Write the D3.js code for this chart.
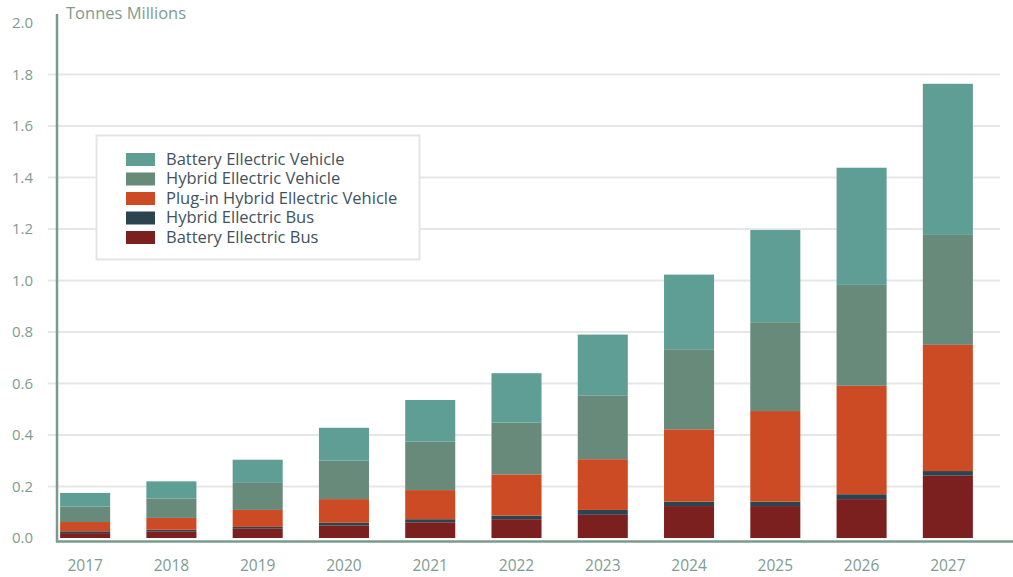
<!DOCTYPE html>
<html>
<head>
<meta charset="utf-8">
<script src="https://cdn.jsdelivr.net/npm/d3@7"></script>
<style>
  body { margin: 0; background: #fff; }
  svg { font-family: "Open Sans", sans-serif; }
</style>
</head>
<body>
<div id="chart"></div>
<script>
// data (tonnes, millions)
var years = ["2017","2018","2019","2020","2021","2022","2023","2024","2025","2026","2027"];
var batteryBus   = [0.019, 0.026, 0.036, 0.048, 0.061, 0.073, 0.090, 0.124, 0.124, 0.151, 0.242];
var hybridBus    = [0.007, 0.006, 0.007, 0.011, 0.012, 0.014, 0.019, 0.017, 0.017, 0.019, 0.018];
var pluginHybrid = [0.036, 0.046, 0.066, 0.092, 0.113, 0.160, 0.197, 0.281, 0.352, 0.421, 0.490];
var hybridCar    = [0.060, 0.075, 0.105, 0.149, 0.188, 0.201, 0.248, 0.311, 0.345, 0.392, 0.427];
var batteryCar   = [0.053, 0.067, 0.090, 0.128, 0.162, 0.192, 0.236, 0.290, 0.358, 0.455, 0.587];
var yTicks = [0, 0.2, 0.4, 0.6, 0.8, 1.0, 1.2, 1.4, 1.6, 1.8, 2.0];

// stack order bottom -> top
var keys = ["Battery Ellectric Bus", "Hybrid Ellectric Bus", "Plug-in Hybrid Ellectric Vehicle", "Hybrid Ellectric Vehicle", "Battery Ellectric Vehicle"];
var series = [batteryBus, hybridBus, pluginHybrid, hybridCar, batteryCar];
var colors = ["#7b1f1f", "#2c4350", "#cc4b24", "#688a7a", "#5f9e95"];

var width = 1013, height = 577;

var table = years.map(function(y, i) {
  var row = {year: y};
  keys.forEach(function(k, j) { row[k] = series[j][i]; });
  return row;
});

var svg = d3.select("#chart").append("svg")
  .attr("width", width)
  .attr("height", height);

var x = d3.scaleBand()
  .domain(years)
  .range([42, 991])
  .paddingInner(0.42)
  .paddingOuter(0.21);

var y = d3.scaleLinear()
  .domain([0, 2])
  .range([538, 23]);

var color = d3.scaleOrdinal().domain(keys).range(colors);

// gridlines
svg.append("g")
  .selectAll("line")
  .data(yTicks.filter(function(d){ return d > 0 && d < 2; }))
  .enter()
  .append("line")
    .attr("x1", 48)
    .attr("x2", 1000)
    .attr("y1", function(d){ return y(d); })
    .attr("y2", function(d){ return y(d); })
    .attr("stroke", "#e5e7e6")
    .attr("stroke-width", 2);

// y tick labels
svg.append("g")
  .selectAll("text")
  .data(yTicks)
  .enter()
  .append("text")
    .attr("x", 33)
    .attr("y", function(d){ return y(d); })
    .attr("dy", "0.35em")
    .attr("text-anchor", "end")
    .style("font-size", "15px")
    .attr("fill", "#7f9b91")
    .text(function(d){ return d.toFixed(1); });

// stacked bars
var stacked = d3.stack().keys(keys)(table);

svg.append("g")
  .selectAll("g")
  .data(stacked)
  .enter()
  .append("g")
    .attr("fill", function(d){ return color(d.key); })
  .selectAll("rect")
  .data(function(d){ return d; })
  .enter()
  .append("rect")
    .attr("x", function(d){ return x(d.data.year); })
    .attr("y", function(d){ return y(d[1]); })
    .attr("width", x.bandwidth())
    .attr("height", function(d){ return y(d[0]) - y(d[1]); });

// axis lines
svg.append("line")
  .attr("x1", 57).attr("x2", 57)
  .attr("y1", 14).attr("y2", 542)
  .attr("stroke", "#7a9a8c")
  .attr("stroke-width", 2.5);
svg.append("line")
  .attr("x1", 56).attr("x2", width)
  .attr("y1", 541.5).attr("y2", 541.5)
  .attr("stroke", "#7a9a8c")
  .attr("stroke-width", 2.5);

// year labels
var xAxis = svg.append("g")
  .attr("transform", "translate(0,542)")
  .call(d3.axisBottom(x).tickSize(0).tickPadding(18));
xAxis.select(".domain").remove();
xAxis.selectAll("text")
  .style("font-size", "15.5px")
  .style("font-family", "'Open Sans', sans-serif")
  .attr("fill", "#7f9b91");

// unit title
svg.append("text")
  .attr("x", 66)
  .attr("y", 19)
  .style("font-size", "16.5px")
  .attr("fill", "#7f9b91")
  .text("Tonnes Millions");

// legend box
var legend = svg.append("g");
legend.append("rect")
  .attr("x", 96.5)
  .attr("y", 135.5)
  .attr("width", 323)
  .attr("height", 124)
  .attr("fill", "#fff")
  .attr("stroke", "#e3e5e4")
  .attr("stroke-width", 2);

var legendKeys = keys.slice().reverse();
var rowY = d3.scalePoint().domain(legendKeys).range([159, 237]);

legend.selectAll("rect.sw")
  .data(legendKeys)
  .enter()
  .append("rect")
    .attr("class", "sw")
    .attr("x", 126)
    .attr("y", function(d){ return rowY(d) - 6; })
    .attr("width", 29)
    .attr("height", 13)
    .attr("fill", function(d){ return color(d); });

legend.selectAll("text")
  .data(legendKeys)
  .enter()
  .append("text")
    .attr("x", 166)
    .attr("y", function(d){ return rowY(d); })
    .attr("dy", "0.35em")
    .style("font-size", "16.5px")
    .attr("fill", "#3f5260")
    .text(function(d){ return d; });
</script>
</body>
</html>
